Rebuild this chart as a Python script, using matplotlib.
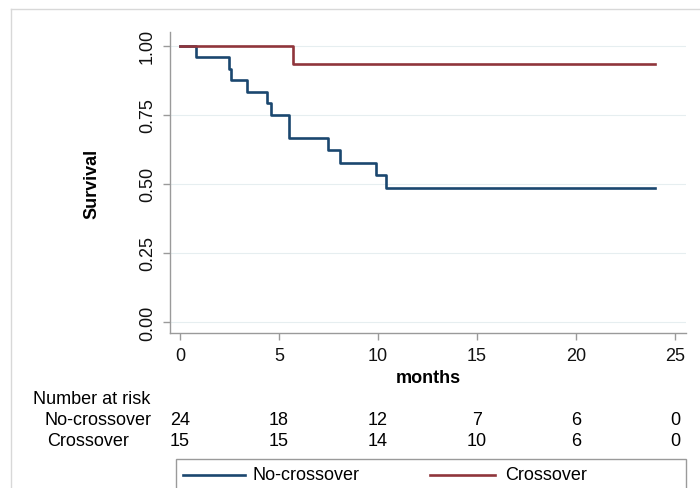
import matplotlib
matplotlib.use('Agg')
import matplotlib.pyplot as plt
from matplotlib.lines import Line2D
from matplotlib.patches import Rectangle
from matplotlib.transforms import blended_transform_factory

plt.rcParams['font.family'] = ['Liberation Sans', 'DejaVu Sans']

# Kaplan-Meier steps
no_cross_t = [0, 0.8, 2.5, 2.6, 3.4, 4.4, 4.6, 5.5, 7.5, 8.1, 9.9, 10.4, 24]
no_cross_s = [1.0, 0.958, 0.917, 0.875, 0.833, 0.792, 0.75, 0.667, 0.622, 0.574, 0.531, 0.486, 0.486]
cross_t = [0, 5.7, 24]
cross_s = [1.0, 0.933, 0.933]

risk_times = [0, 5, 10, 15, 20, 25]
risk_no_cross = [24, 18, 12, 7, 6, 0]
risk_cross = [15, 15, 14, 10, 6, 0]

y_ticks = [0.0, 0.25, 0.5, 0.75, 1.0]
x_ticks = [0, 5, 10, 15, 20, 25]

c_blue = '#1a476f'
c_red = '#90353b'
c_axis = '#9a9a9a'
fs = 13

fig = plt.figure(figsize=(7, 4.89), dpi=100)
ax = fig.add_axes([170 / 700, 1 - 334 / 489, 516 / 700, 301 / 489])

ax.step(no_cross_t, no_cross_s, where='post', color=c_blue, lw=1.9, label='No-crossover')
ax.step(cross_t, cross_s, where='post', color=c_red, lw=1.9, label='Crossover')

ax.set_xlim(-0.5, 25.55)
ax.set_ylim(-0.04, 1.05)
ax.set_xticks(x_ticks)
ax.set_yticks(y_ticks)
ax.set_yticklabels(['%.2f' % v for v in y_ticks], rotation=90, va='center')
ax.grid(axis='y', color='#e6eef0', lw=0.8)
ax.set_axisbelow(True)
for s in ['top', 'right']:
    ax.spines[s].set_visible(False)
for s in ['left', 'bottom']:
    ax.spines[s].set_color(c_axis)
    ax.spines[s].set_linewidth(1.0)
ax.tick_params(colors=c_axis, labelcolor='#111111', labelsize=fs, length=5, width=1.0)
ax.tick_params(axis='x', pad=5)
ax.tick_params(axis='y', pad=5)
ax.set_xlabel('months', fontsize=fs, fontweight='bold', labelpad=4)
ax.set_ylabel('Survival', fontsize=fs, fontweight='bold', labelpad=28)

# number at risk table
tr = blended_transform_factory(ax.transData, fig.transFigure)
fig.text(33 / 700, 1 - 400 / 489, 'Number at risk', fontsize=fs, va='center', ha='left')
fig.text(45 / 700, 1 - 421 / 489, 'No-crossover', fontsize=fs, va='center', ha='left')
fig.text(47 / 700, 1 - 442 / 489, 'Crossover', fontsize=fs, va='center', ha='left')
for t, a, b in zip(risk_times, risk_no_cross, risk_cross):
    ax.text(t, 1 - 421 / 489, str(a), transform=tr, fontsize=fs, ha='center', va='center')
    ax.text(t, 1 - 442 / 489, str(b), transform=tr, fontsize=fs, ha='center', va='center')

# legend box below, cut by the image edge
W, H = 700.0, 489.0
fig.add_artist(Rectangle((176 / W, -0.05), 510 / W, 0.05 + 1 - 460 / H, transform=fig.transFigure,
                         facecolor='white', edgecolor='#9a9a9a', lw=1.0))
ly = 1 - 476 / H
leg_items = [(c_blue, 'No-crossover', 183, 245, 253), (c_red, 'Crossover', 430, 495, 505)]
for col, lab, x0, x1, xt in leg_items:
    fig.add_artist(Line2D([x0 / W, x1 / W], [ly, ly], transform=fig.transFigure, color=col, lw=1.9))
    fig.text(xt / W, ly, lab, fontsize=fs, va='center', ha='left')

# outer frame lines
fig.add_artist(Line2D([11 / W, 1], [1 - 10 / H, 1 - 10 / H], transform=fig.transFigure, color='#d8d8d8', lw=1))
fig.add_artist(Line2D([11 / W, 11 / W], [0, 1 - 10 / H], transform=fig.transFigure, color='#d8d8d8', lw=1))

fig.savefig('out.png', dpi=100)
